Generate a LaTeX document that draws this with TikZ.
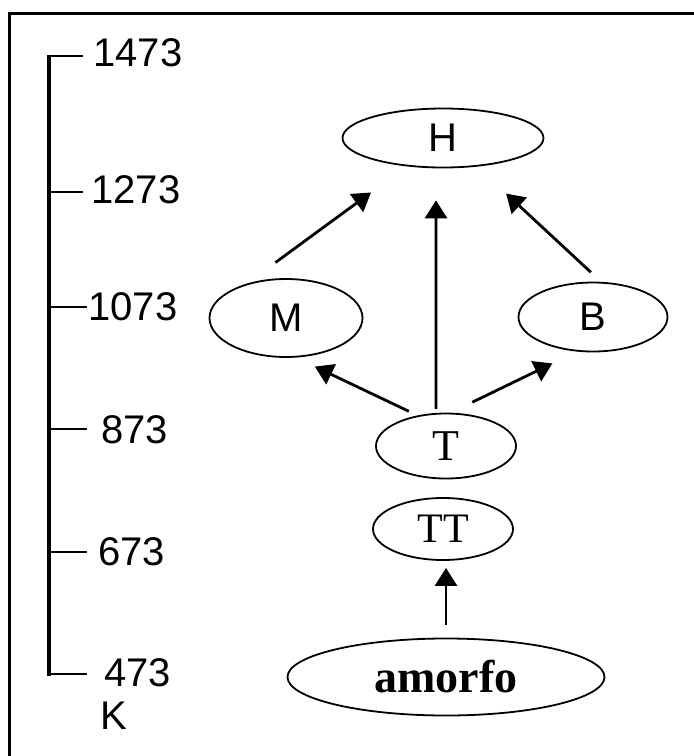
\documentclass[tikz,border=0pt]{standalone}
\usepackage{fontspec}
\setmainfont{Liberation Serif}
\setsansfont{Liberation Sans}
\usetikzlibrary{arrows.meta,shapes.geometric}

\begin{document}
\begin{tikzpicture}[
  x=0.5pt, y=-0.5pt,
  lbl/.style={anchor=west, inner sep=0pt, font=\sffamily\fontsize{20}{24}\selectfont},
  phase/.style={draw, ellipse, inner sep=0pt, line width=0.9pt},
  sanstxt/.style={font=\sffamily\fontsize{20}{24}\selectfont},
  seriftxt/.style={font=\rmfamily\fontsize{22}{26}\selectfont},
  arr/.style={-{Triangle[length=9pt, width=11pt]}, line width=1.4pt},
  tickline/.style={line width=1.3pt}]
\useasboundingbox (0,0) rectangle (694,756);
% frame
\draw[line width=1.2pt] (9.5,756) -- (9.5,13.5) -- (694,13.5);
% temperature scale
\draw[line width=2pt] (49,54.5) -- (49,676);
\draw[tickline] (49,56) -- (83,56);
\draw[tickline] (49,192) -- (83,192);
\draw[tickline] (49,307) -- (87,307);
\draw[tickline] (49,429) -- (87,429);
\draw[tickline] (49,552) -- (87,552);
\draw[tickline] (49,674) -- (87,674);
\node[lbl] (k1473) at (93,53) {1473};
\node[lbl] (k1273) at (91,190) {1273};
\node[lbl] (k1073) at (88,307) {1073};
\node[lbl] (k873) at (101,430) {873};
\node[lbl] (k673) at (98,552) {673};
\node[lbl] (k473) at (104,673) {473};
\node[lbl] (unit) at (100,716) {K};
% phases
\node[phase, sanstxt, minimum width=100.5pt, minimum height=29.5pt] (H) at (443,138) {H};
\node[phase, sanstxt, minimum width=76.5pt, minimum height=39pt] (M) at (286,318) {M};
\node[phase, sanstxt, minimum width=74.5pt, minimum height=34.5pt] (B) at (593,317) {B};
\node[phase, seriftxt, minimum width=70pt, minimum height=32.5pt] (T) at (446,446) {T};
\node[phase, font=\rmfamily\fontsize{21}{25}\selectfont, minimum width=70pt, minimum height=31pt] (TT) at (443,529) {TT};
\node[phase, font=\rmfamily\bfseries\fontsize{23}{27}\selectfont, minimum width=158.5pt, minimum height=38.5pt] (amorfo) at (446,677) {amorfo};
% transformations
\draw[arr, shorten <=17.9pt, shorten >=22.1pt] (M.139) -- (H.218);
\draw[arr, shorten <=2pt, shorten >=16pt] (T.107) -- (H.257);
\draw[arr, shorten <=7pt, shorten >=19.8pt] (B.77) -- (H.320);
\draw[arr, shorten <=4.8pt, shorten >=10.5pt] (T.133) -- (M.284);
\draw[arr, shorten <=12pt, shorten >=13.6pt] (T.82) -- (B.245);
\draw[arr, shorten <=6.5pt, shorten >=3.5pt] (amorfo.north) -- (amorfo.north |- TT.south);
\end{tikzpicture}
\end{document}
